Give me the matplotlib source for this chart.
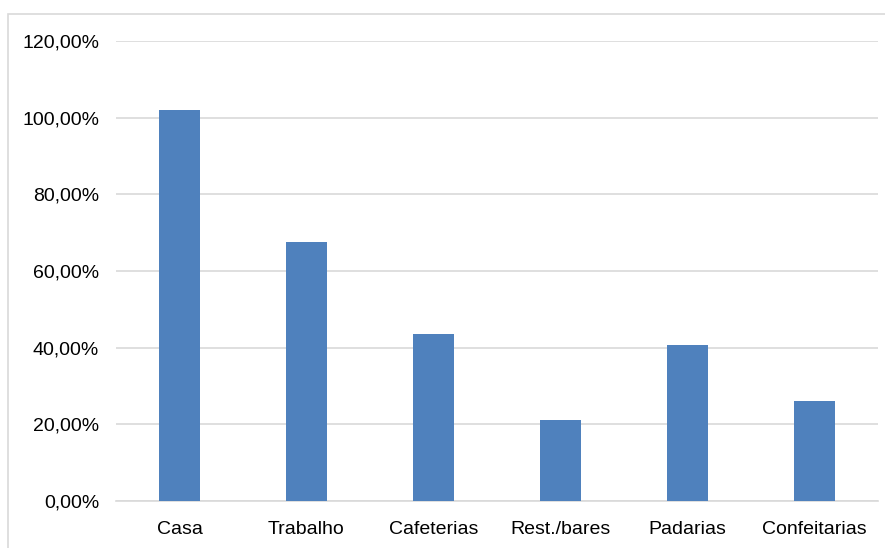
import matplotlib
matplotlib.use("Agg")
import matplotlib.pyplot as plt
from matplotlib.patches import Rectangle
from matplotlib.ticker import FuncFormatter

categories = ["Casa", "Trabalho", "Cafeterias", "Rest./bares", "Padarias", "Confeitarias"]
values = [102.1, 67.6, 43.6, 21.2, 40.6, 26.0]
y_ticks = [0, 20, 40, 60, 80, 100, 120]

W, H = 885, 548
fig = plt.figure(figsize=(W / 100, H / 100), dpi=100)
fig.patch.set_facecolor("white")

font = ["Liberation Sans", "DejaVu Sans"]
fsize = 14

# outer chart frame
fig.patches.append(Rectangle((7.5 / W, -0.1), 1.2, (H - 14) / H + 0.1,
                             transform=fig.transFigure, fill=False,
                             edgecolor="#d9d9d9", linewidth=1.2))

left, right = 116 / W, 878 / W
bottom, top = (H - 501) / H, (H - 41) / H
ax = fig.add_axes([left, bottom, right - left, top - bottom])

x = range(len(categories))
ax.bar(x, values, width=0.315, color="#4F81BD", zorder=3)

ax.set_xlim(-0.5, len(categories) - 0.5)
ax.set_ylim(0, 120)
ax.set_yticks(y_ticks)
ax.yaxis.set_major_formatter(FuncFormatter(lambda v, p: f"{v:.2f}%".replace(".", ",")))
ax.set_xticks(list(x))
ax.set_xticklabels(categories)

ax.grid(axis="y", color="#d9d9d9", linewidth=1.2, zorder=0)
for s in ["top", "right", "left"]:
    ax.spines[s].set_visible(False)
ax.spines["bottom"].set_color("#d9d9d9")
ax.spines["bottom"].set_linewidth(1.2)

ax.tick_params(axis="both", length=0, colors="#000000")
ax.tick_params(axis="y", pad=12.2)
ax.tick_params(axis="x", pad=14.5)
for lab in ax.get_yticklabels() + ax.get_xticklabels():
    lab.set_fontfamily(font)
    lab.set_fontsize(fsize)

fig.savefig("out.png", dpi=100, facecolor="white")
